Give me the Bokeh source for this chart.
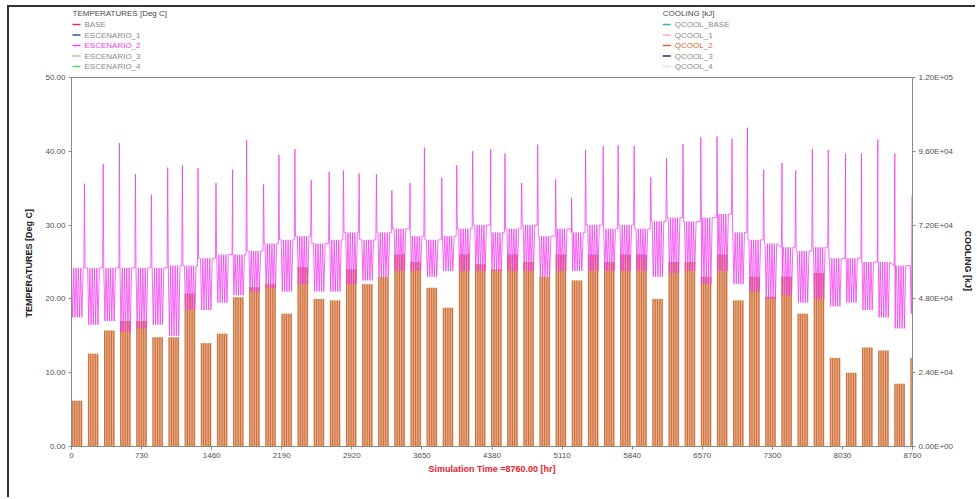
from bokeh.plotting import figure
from bokeh.layouts import column
from bokeh.models import Range1d, LinearAxis, FixedTicker
from bokeh.core.properties import value
from bokeh.embed import file_html
from bokeh.resources import INLINE

# ---------------- data ----------------
# weekly temperature spikes (weekend free-floating peaks), hour and value [Deg C]
spike_hours = [135, 330, 499, 666, 832, 1002, 1155, 1318, 1505, 1678, 1824, 2001, 2161,
               2327, 2497, 2684, 2833, 2996, 3176, 3337, 3527, 3676, 3857, 4013, 4179,
               4367, 4515, 4689, 4856, 5043, 5209, 5355, 5538, 5694, 5861, 6034, 6198,
               6370, 6555, 6724, 6880, 7040, 7210, 7401, 7543, 7717, 7883, 8063, 8229,
               8399, 8576, 8757]
spike_temps = [35.6, 38.3, 41.1, 36.9, 34.1, 37.8, 38.1, 37.7, 35.7, 37.5, 41.5, 35.5, 39.5,
               40.3, 36.1, 37.2, 37.4, 37.0, 36.9, 34.7, 35.7, 40.5, 36.4, 38.1, 40.0,
               40.3, 39.7, 35.7, 40.9, 36.2, 33.7, 40.2, 40.7, 40.8, 40.7, 36.5, 39.1,
               41.0, 41.9, 42.0, 41.7, 43.2, 37.5, 38.4, 37.4, 40.3, 40.2, 39.7, 39.7,
               41.6, 39.7, 34.0]
# weekday temperature band per week (min / max) [Deg C]
week_low = [17.5, 16.5, 17.0, 15.5, 16.0, 16.5, 15.0, 18.5, 18.5, 19.5, 20.5, 21.0, 21.5,
            21.0, 22.0, 21.0, 21.0, 22.0, 22.5, 23.0, 23.8, 23.8, 23.0, 23.8, 23.8, 23.8,
            23.8, 23.8, 23.8, 23.0, 23.8, 23.8, 23.8, 23.8, 23.8, 23.8, 23.0, 23.5, 23.8,
            22.0, 23.8, 22.0, 21.0, 20.0, 20.5, 19.5, 20.0, 19.0, 19.5, 18.5, 17.5, 16.0, 18.0]
week_high = [24.2, 24.2, 24.2, 24.2, 24.2, 24.2, 24.5, 24.5, 25.5, 26.0, 26.0, 26.5, 27.5,
             28.0, 28.5, 27.5, 28.0, 29.0, 28.0, 29.0, 29.5, 28.5, 28.0, 28.5, 29.5, 30.0,
             29.0, 29.5, 30.0, 28.5, 29.5, 29.0, 30.0, 29.5, 30.0, 29.5, 30.5, 31.0, 30.5,
             31.0, 31.5, 29.0, 28.0, 27.5, 27.0, 26.5, 27.0, 25.5, 25.5, 25.0, 25.0, 24.5, 24.5]
# weekday cooling per week [kJ]
week_cool = [14900, 30200, 37700, 40800, 40800, 35500, 35500, 49700, 33600, 36700, 48500,
             51800, 52800, 43200, 58300, 48000, 47500, 57600, 52800, 55200, 62400, 60000,
             51600, 45100, 62400, 59300, 57600, 62400, 60000, 55200, 62400, 54000, 62400,
             60000, 62400, 62400, 48000, 60000, 60000, 55200, 62400, 47500, 55200, 48700,
             55200, 43200, 56400, 28800, 24000, 32200, 31200, 20400, 28800]

x_ticks = [0, 730, 1460, 2190, 2920, 3650, 4380, 5110, 5840, 6570, 7300, 8030, 8760]
temp_ticks = [0, 10, 20, 30, 40, 50]
temp_tick_labels = ["0.00", "10.00", "20.00", "30.00", "40.00", "50.00"]
cool_ticks = [0, 24000, 48000, 72000, 96000, 120000]
cool_tick_labels = ["0.00E+00", "2.40E+04", "4.80E+04", "7.20E+04", "9.60E+04", "1.20E+05"]

temp_legend = ["BASE", "ESCENARIO_1", "ESCENARIO_2", "ESCENARIO_3", "ESCENARIO_4"]
temp_legend_colors = ["#e8322a", "#2a5aa8", "#f040f0", "#e8b08a", "#5ad25a"]
cool_legend = ["QCOOL_BASE", "QCOOL_1", "QCOOL_2", "QCOOL_3", "QCOOL_4"]
cool_legend_colors = ["#3ab0c8", "#f0b0d8", "#d06a30", "#1a2a60", "#d8e8d0"]

T_END = 8760
PINK = "#f03cf0"
FONT = "Liberation Sans"

# ---------------- build series ----------------
n_weeks = len(week_low)
pts = []
for w in range(n_weeks):
    t0 = 168 * w
    for d in range(5):
        for k, hh in enumerate((0, 12)):
            t = t0 + 24 * d + hh
            if t <= T_END:
                pts.append((t, week_high[w] if k == 0 else week_low[w]))
    if w < len(spike_hours):
        sh = spike_hours[w]
        for t, v in ((t0 + 122, week_high[w]), (sh - 6, week_high[w]), (sh, spike_temps[w]),
                     (sh + 6, week_high[min(w + 1, n_weeks - 1)])):
            if t <= T_END:
                pts.append((t, v))
pts.sort()
tx = [q[0] for q in pts]
ty = [q[1] for q in pts]

bar_l, bar_r, bar_top = [], [], []
day_x, day_top = [], []
for w in range(n_weeks):
    t0 = 168 * w
    start, end = t0 + 4, min(t0 + 114, T_END)
    if end <= start:
        continue
    bar_l.append(start)
    bar_r.append(end)
    bar_top.append(week_cool[w])
    for d in range(5):
        t = t0 + 24 * d + 8
        if t < T_END:
            day_x.append(t)
            day_top.append(week_cool[w])

# ---------------- geometry ----------------
FL, FR, FT, FB = 71, 913, 77, 446      # target frame edges on the page (px)
CX, CY = 9, 7                          # layout origin on the page (after margin + border)
W = 966
LEG_H = 64                             # legend strip height
MAIN_H = 426
MY = CY + LEG_H                        # main canvas top on the page

# ---------------- legend strip (frame is aligned with the main frame) ----------------
leg = figure(width=W, height=LEG_H, output_backend="svg", toolbar_location=None,
             x_range=Range1d(FL, FR), y_range=Range1d(MY, CY),
             min_border=0, min_border_left=FL - CX, min_border_right=W - (FR - CX),
             min_border_top=0, min_border_bottom=0)
leg.axis.visible = False
leg.grid.visible = False
leg.outline_line_color = None

lx, ly, ltxt, lcol = [], [], [], []
sx0, sx1, sy, scol = [], [], [], []
lx += [72, 663]
ly += [13, 13]
ltxt += ["TEMPERATURES  [Deg C]", "COOLING  [kJ]"]
lcol += ["#4a4a4a", "#4a4a4a"]
for i in range(5):
    py = 24 + 10.5 * i
    sx0 += [72, 663]
    sx1 += [80, 671]
    sy += [py, py]
    scol += [temp_legend_colors[i], cool_legend_colors[i]]
    lx += [84, 675]
    ly += [py, py]
    ltxt += [temp_legend[i], cool_legend[i]]
    lcol += [PINK if i == 2 else "#8a8a8a", "#d06a30" if i == 2 else "#8a8a8a"]
leg.segment(x0=sx0, y0=sy, x1=sx1, y1=sy, line_color=scol, line_width=1.5)
leg.text(x=lx, y=ly, text=ltxt, text_color=lcol, text_font=value(FONT),
         text_font_size="8px", text_baseline="middle", text_align="left")

# ---------------- main plot ----------------
p = figure(width=W, height=MAIN_H, output_backend="svg", toolbar_location=None,
           x_range=Range1d(0, T_END), y_range=Range1d(0, 50),
           min_border_left=FL - CX, min_border_right=W - (FR - CX),
           min_border_top=FT - MY, min_border_bottom=MAIN_H - (FB - MY))
p.extra_y_ranges = {"cool": Range1d(0, 120000)}
p.xgrid.visible = False
p.ygrid.visible = False
p.outline_line_color = "#8a8a8a"
p.outline_line_width = 1
p.background_fill_color = "white"

# cooling (right axis)
p.quad(left=bar_l, right=bar_r, top=bar_top, bottom=0, y_range_name="cool",
       fill_color="#e6ad88", line_color=None)
p.segment(x0=day_x, y0=[0] * len(day_x), x1=day_x, y1=day_top, y_range_name="cool",
          line_color="#c8642c", line_width=0.9)

# temperature (left axis)
p.line(tx, ty, line_color=PINK, line_width=0.9, line_alpha=0.85)

p.xaxis.ticker = FixedTicker(ticks=x_ticks)
p.xaxis.axis_label = "Simulation Time =8760.00 [hr]"
p.xaxis.axis_label_text_color = "#e8202a"
p.xaxis.axis_label_standoff = 3

p.yaxis.ticker = FixedTicker(ticks=temp_ticks)
p.yaxis.major_label_overrides = {t: l for t, l in zip(temp_ticks, temp_tick_labels)}
p.yaxis.axis_label = "TEMPERATURES  [Deg C]"
p.yaxis.axis_label_text_color = "#222222"
p.yaxis.axis_label_standoff = 8

ax2 = LinearAxis(y_range_name="cool", ticker=FixedTicker(ticks=cool_ticks),
                 axis_label="COOLING  [kJ]")
ax2.major_label_overrides = {t: l for t, l in zip(cool_ticks, cool_tick_labels)}
ax2.axis_label_text_color = "#222222"
ax2.axis_label_standoff = 7
p.add_layout(ax2, "right")

for ax in (p.xaxis[0], p.yaxis[0], ax2):
    ax.axis_label_text_font_style = "bold"
    ax.axis_label_text_font_size = "9px"
    ax.axis_label_text_font = FONT
    ax.major_label_text_font = FONT
    ax.major_label_text_font_size = "8px"
    ax.major_label_text_color = "#505050"
    ax.axis_line_color = "#8a8a8a"
    ax.major_tick_line_color = "#8a8a8a"
    ax.major_tick_out = 3
    ax.major_tick_in = 0
    ax.minor_tick_line_color = None
    ax.major_label_standoff = 3

layout = column(leg, p, spacing=0)
layout.styles = {"margin-left": "7px", "margin-top": "5px",
                 "border-left": "2px solid #333", "border-top": "2px solid #333"}

open("out.html", "w").write(file_html(layout, INLINE))
